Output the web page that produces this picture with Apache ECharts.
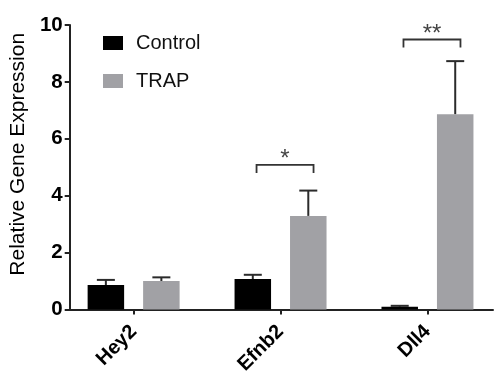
<!DOCTYPE html>
<html>
<head>
<meta charset="utf-8">
<script src="https://cdn.jsdelivr.net/npm/echarts@6/dist/echarts.min.js"></script>
<style>html,body{margin:0;padding:0;background:#fff}#c{width:500px;height:382px}</style>
</head>
<body>
<div id="c"></div>
<script>
var categories = ['Hey2', 'Efnb2', 'Dll4'];
var seriesNames = ['Control', 'TRAP'];
var controlMean = [0.86, 1.07, 0.10];
var controlUpper = [1.04, 1.22, 0.13];
var trapMean = [1.00, 3.29, 6.86];
var trapUpper = [1.13, 4.18, 8.73];
var yTicks = [0, 2, 4, 6, 8, 10];
var sigCategory = [1, 2];
var sigLevel = [5.08, 9.49];
var sigLabel = ['*', '**'];

var FONT = '"Liberation Sans", Arial, sans-serif';
var idx = categories.map(function (_, i) { return i; });
var BAR_OFFSET = 27.75;

function errData(mean, upper) {
  return idx.map(function (i) { return [i, mean[i], upper[i]]; });
}
function errRender(offset) {
  return function (params, api) {
    var top = api.coord([api.value(0), api.value(2)]);
    var base = api.coord([api.value(0), api.value(1)]);
    var x = top[0] + offset;
    var st = { stroke: '#2b2b2b', lineWidth: 2 };
    return {
      type: 'group',
      children: [
        { type: 'line', shape: { x1: x, y1: base[1], x2: x, y2: top[1] }, style: st },
        { type: 'line', shape: { x1: x - 9, y1: top[1], x2: x + 9, y2: top[1] }, style: st }
      ]
    };
  };
}

var option = {
  animation: false,
  backgroundColor: '#fff',
  textStyle: { fontFamily: FONT },
  grid: { left: 66.7, right: 7, top: 25, bottom: 72.5 },
  legend: {
    orient: 'vertical',
    left: 98,
    top: 28,
    itemWidth: 20,
    itemHeight: 14,
    itemGap: 18,
    icon: 'rect',
    data: seriesNames,
    textStyle: { fontSize: 20, color: '#111', fontFamily: FONT, padding: [0, 0, 0, 8] }
  },
  xAxis: {
    type: 'value',
    min: -0.435,
    max: 2.446,
    splitLine: { show: false },
    axisLine: { show: true, onZero: true, lineStyle: { color: '#222', width: 2 } },
    axisTick: { show: true, customValues: idx, length: 5, lineStyle: { color: '#222', width: 2 } },
    axisLabel: {
      customValues: idx,
      rotate: 45,
      margin: 19,
      fontSize: 20,
      fontWeight: 'bold',
      color: '#000',
      fontFamily: FONT,
      formatter: function (v) { return categories[Math.round(v)]; }
    }
  },
  yAxis: {
    type: 'value',
    min: 0,
    max: 10,
    interval: 2,
    name: 'Relative Gene Expression',
    nameLocation: 'middle',
    nameGap: 37,
    nameTextStyle: { fontSize: 21, color: '#000', fontFamily: FONT, padding: [0, 0, 0, 26] },
    splitLine: { show: false },
    axisLine: { show: true, onZero: false, lineStyle: { color: '#222', width: 2 } },
    axisTick: { show: true, length: 5, lineStyle: { color: '#222', width: 2 } },
    axisLabel: {
      margin: 7, fontSize: 20.5, fontWeight: 'bold', color: '#000', fontFamily: FONT,
      formatter: function (v) { return yTicks.indexOf(v) >= 0 ? String(v) : ''; }
    }
  },
  series: [
    {
      name: seriesNames[0], type: 'bar', barWidth: 36.5, barGap: '52%',
      itemStyle: { color: '#000' },
      data: idx.map(function (i) { return [i, controlMean[i]]; }), z: 2
    },
    {
      name: seriesNames[1], type: 'bar', barWidth: 36.5, barGap: '52%',
      itemStyle: { color: '#a1a1a5' },
      data: idx.map(function (i) { return [i, trapMean[i]]; }), z: 2
    },
    {
      type: 'custom', renderItem: errRender(-BAR_OFFSET), data: errData(controlMean, controlUpper),
      encode: { x: 0, y: [1, 2] }, z: 1, silent: true
    },
    {
      type: 'custom', renderItem: errRender(BAR_OFFSET), data: errData(trapMean, trapUpper),
      encode: { x: 0, y: [1, 2] }, z: 1, silent: true
    },
    {
      type: 'custom',
      data: sigCategory.map(function (c, k) { return [c, sigLevel[k], k]; }),
      encode: { x: 0, y: 1 },
      silent: true,
      renderItem: function (params, api) {
        var p = api.coord([api.value(0), api.value(1)]);
        var cx = p[0] + 4.5, y = p[1];
        var x1 = cx - 28.5, x2 = cx + 28.5;
        var st = { stroke: '#333', lineWidth: 1.8, fill: null };
        return {
          type: 'group',
          children: [
            { type: 'polyline', shape: { points: [[x1, y + 8], [x1, y], [x2, y], [x2, y + 8]] }, style: st },
            { type: 'text', style: { text: sigLabel[api.value(2)], x: cx, y: y - 5.5, align: 'center', verticalAlign: 'middle', fontSize: 24, fontFamily: FONT, fill: '#444' } }
          ]
        };
      }
    }
  ]
};

var chart = echarts.init(document.getElementById('c'), null, { renderer: 'canvas' });
chart.setOption(option);
</script>
</body>
</html>
